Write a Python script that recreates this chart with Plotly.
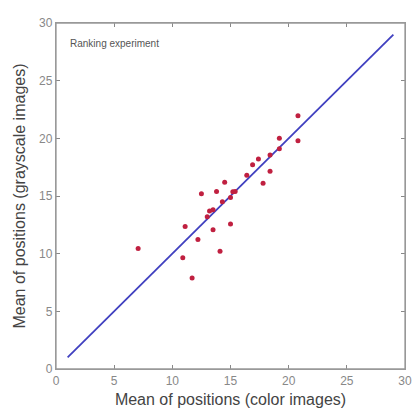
import plotly.graph_objects as go

color_means = [7.06, 10.9, 11.1, 11.7, 12.2, 12.5, 13.0, 13.2, 13.5, 13.5, 13.8, 14.1, 14.3, 14.5,
               15.0, 15.0, 15.2, 15.4, 16.4, 16.9, 17.4, 17.8, 18.4, 18.4, 19.2, 19.2, 20.8, 20.8]
gray_means = [10.45, 9.64, 12.35, 7.88, 11.23, 15.2, 13.2, 13.7, 13.8, 12.07, 15.4, 10.2, 14.5, 16.2,
              14.86, 12.57, 15.37, 15.4, 16.8, 17.7, 18.2, 16.1, 17.15, 18.55, 19.1, 20.0, 21.96, 19.8]
line_x = [1, 29]
line_y = [1, 29]
ticks = [0, 5, 10, 15, 20, 25, 30]

fig = go.Figure()
fig.add_trace(go.Scatter(x=line_x, y=line_y, mode="lines",
                         line=dict(color="#4040c0", width=1.8), showlegend=False))
fig.add_trace(go.Scatter(x=color_means, y=gray_means, mode="markers",
                         marker=dict(color="#c02040", size=5), showlegend=False))

axis_common = dict(range=[0, 30], tickvals=ticks, ticks="inside", ticklen=4,
                   tickcolor="#888", showline=True, linecolor="#999", linewidth=1.3,
                   mirror="allticks", showgrid=False, zeroline=False,
                   tickfont=dict(family="Arial, Liberation Sans", size=12, color="#888"))
fig.update_xaxes(**axis_common,
                 title=dict(text="Mean of positions (color images)", standoff=7,
                            font=dict(family="Arial, Liberation Sans", size=16, color="#444")))
fig.update_yaxes(**axis_common,
                 title=dict(text="Mean of positions (grayscale images)", standoff=9,
                            font=dict(family="Arial, Liberation Sans", size=16, color="#444")))

fig.add_shape(type="rect", xref="paper", yref="paper", x0=0, y0=0, x1=1, y1=1,
              line=dict(color="#999", width=1.3), layer="above")

fig.add_annotation(x=1.0, y=28.2, xref="x", yref="y", text="Ranking experiment", showarrow=False,
                   xanchor="left", font=dict(family="Arial, Liberation Sans", size=10, color="#555"))

fig.update_layout(width=412, height=406, margin=dict(l=48, r=8, t=8, b=40),
                  plot_bgcolor="white", paper_bgcolor="white")
fig.write_html("out.html")
